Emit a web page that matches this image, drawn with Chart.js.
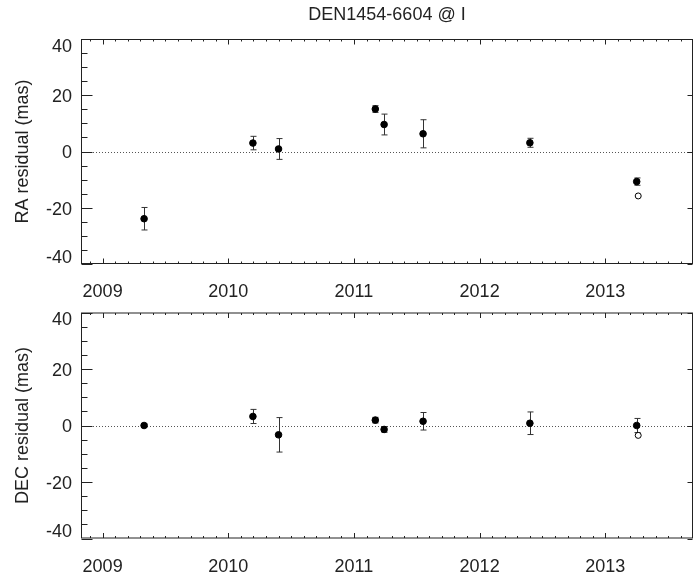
<!DOCTYPE html>
<html>
<head>
<meta charset="utf-8">
<script src="https://cdn.jsdelivr.net/npm/chart.js@4/dist/chart.umd.min.js"></script>
<style>
  body { margin: 0; background: #fff; overflow: hidden; }
  #wrap { position: relative; width: 694px; height: 582px; }
  .panel { position: absolute; left: 0; width: 694px; }
  #raPanel { top: 0; height: 310px; }
  #decPanel { top: 300px; height: 282px; }
</style>
</head>
<body>
<div id="wrap">
  <div class="panel" id="raPanel"><canvas id="raChart"></canvas></div>
  <div class="panel" id="decPanel"><canvas id="decChart"></canvas></div>
</div>
<script>
// observation epochs (decimal years) and residuals in mas
const epochs = [2009.33, 2010.196, 2010.40, 2011.17, 2011.24, 2011.55, 2012.40, 2013.25];
const raRes = [-23.9, 3.0, 0.9, 15.1, 9.6, 6.3, 3.1, -10.7];
const raErr = [4.0, 2.4, 3.7, 1.2, 3.7, 5.0, 1.6, 1.3];
const decRes = [0.0, 3.2, -3.3, 1.9, -1.4, 1.5, 0.8, 0.0];
const decErr = [0.5, 2.5, 6.1, 1.0, 1.0, 3.1, 4.0, 2.5];

// rejected / alternative point (open circle)
const openEpoch = [2013.262];
const openRa = [-15.8];
const openDec = [-3.5];

const yearTicks = [2009, 2010, 2011, 2012, 2013];
const masTicks = [-40, -20, 0, 20, 40];
const xMin = 2008.828, xMax = 2013.698;
const yMin = -40, yMax = 40;

const fontFamily = '"Liberation Sans", Arial, Helvetica, sans-serif';
const ink = '#222';

// IDL-like frame: box, inward ticks, dotted zero line, error bars
function idlFrame(values, errors) {
  return {
    id: 'idlFrame',
    beforeDatasetsDraw(chart) {
      const {ctx, chartArea: a, scales: {x, y}} = chart;
      ctx.save();
      ctx.lineWidth = 1;
      ctx.strokeStyle = '#555';
      ctx.setLineDash([1, 2]);
      const y0 = Math.round(y.getPixelForValue(0)) + 0.5;
      ctx.beginPath();
      ctx.moveTo(a.left, y0);
      ctx.lineTo(a.right, y0);
      ctx.stroke();
      ctx.setLineDash([]);

      ctx.strokeStyle = '#333';
      values.forEach((v, i) => {
        const px = Math.round(x.getPixelForValue(epochs[i])) + 0.5;
        const top = y.getPixelForValue(v + errors[i]);
        const bot = y.getPixelForValue(v - errors[i]);
        ctx.beginPath();
        ctx.moveTo(px, top); ctx.lineTo(px, bot);
        ctx.moveTo(px - 3, top); ctx.lineTo(px + 3, top);
        ctx.moveTo(px - 3, bot); ctx.lineTo(px + 3, bot);
        ctx.stroke();
      });
      ctx.restore();
    },
    afterDraw(chart) {
      const {ctx, chartArea: a, scales: {x, y}} = chart;
      const L = a.left + 0.5, R = a.right - 0.5, T = a.top + 0.5, B = a.bottom - 0.5;
      ctx.save();
      ctx.strokeStyle = ink;
      ctx.lineWidth = 1;
      ctx.strokeRect(L, T, R - L, B - T);
      ctx.beginPath();
      // x ticks every 0.1 yr, top and bottom, pointing inward
      for (let k = Math.ceil(xMin * 10); k <= Math.floor(xMax * 10); k++) {
        const px = Math.round(x.getPixelForValue(k / 10)) + 0.5;
        const len = k % 10 === 0 ? 5 : 2;
        ctx.moveTo(px, B); ctx.lineTo(px, B - len);
        ctx.moveTo(px, T); ctx.lineTo(px, T + len);
      }
      // y ticks every 5 mas on the left, majors on the right
      for (let v = yMin; v <= yMax; v += 5) {
        const py = Math.round(y.getPixelForValue(v)) + 0.5;
        const major = v % 20 === 0;
        ctx.moveTo(L, py); ctx.lineTo(L + (major ? 11 : 6), py);
        if (major) { ctx.moveTo(R, py); ctx.lineTo(R - 5, py); }
      }
      ctx.stroke();

      // y tick labels, end labels pulled inside the frame like IDL does
      ctx.fillStyle = ink;
      ctx.font = '18px ' + fontFamily;
      ctx.textAlign = 'right';
      ctx.textBaseline = 'middle';
      masTicks.forEach(v => {
        const nudge = v === yMax ? 8 : v === yMin ? -6 : 2;
        ctx.fillText(String(v), a.left - 9, y.getPixelForValue(v) + nudge);
      });
      ctx.restore();
    }
  };
}

function makeConfig(label, values, errors, openValues, withTitle, padTop, xAxisHeight) {
  return {
    type: 'scatter',
    data: {
      datasets: [{
        data: epochs.map((t, i) => ({x: t, y: values[i]})),
        backgroundColor: '#000',
        borderColor: '#000',
        borderWidth: 1,
        pointRadius: 3.3,
        pointHoverRadius: 3.3
      }, {
        data: openEpoch.map((t, i) => ({x: t, y: openValues[i]})),
        backgroundColor: '#fff',
        borderColor: '#000',
        borderWidth: 1,
        pointRadius: 3,
        pointHoverRadius: 3
      }]
    },
    options: {
      responsive: true,
      maintainAspectRatio: false,
      animation: false,
      layout: {autoPadding: false, padding: {top: padTop, right: 1, left: 0, bottom: 0}},
      plugins: {
        legend: {display: false},
        tooltip: {enabled: false},
        title: {
          display: withTitle,
          text: 'DEN1454-6604 @ I',
          fullSize: false,
          color: ink,
          font: {family: fontFamily, size: 18, weight: 'normal', lineHeight: 1.2},
          padding: {top: 4, bottom: 13.4}
        }
      },
      scales: {
        x: {
          type: 'linear',
          min: xMin,
          max: xMax,
          grid: {display: false},
          border: {display: false},
          afterFit: s => { s.height = xAxisHeight; s.paddingLeft = 0; s.paddingRight = 0; },
          afterBuildTicks: s => { s.ticks = yearTicks.map(v => ({value: v})); },
          ticks: {
            color: ink,
            padding: 9.5,
            maxRotation: 0,
            font: {family: fontFamily, size: 18},
            callback: v => String(v)
          }
        },
        y: {
          min: yMin,
          max: yMax,
          grid: {display: false},
          border: {display: false},
          afterFit: s => { s.width = 81; s.paddingTop = 0; s.paddingBottom = 0; },
          ticks: {display: false, stepSize: 20},
          title: {
            display: true,
            text: label,
            color: ink,
            font: {family: fontFamily, size: 18, lineHeight: 1.2},
            padding: {top: 12, bottom: 0}
          }
        }
      }
    },
    plugins: [idlFrame(values, errors)]
  };
}

new Chart(document.getElementById('raChart'),
  makeConfig('RA residual (mas)', raRes, raErr, openRa, true, 0, 46));
new Chart(document.getElementById('decChart'),
  makeConfig('DEC residual (mas)', decRes, decErr, openDec, false, 12.5, 43.5));
</script>
</body>
</html>
